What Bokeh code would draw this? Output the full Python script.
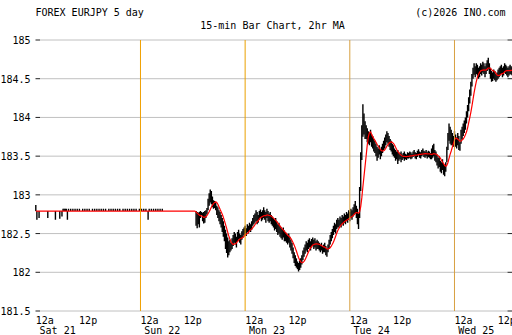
import numpy as np
import pandas as pd
from bokeh.plotting import figure
from bokeh.models import Label, ColumnDataSource, Range1d
from bokeh.embed import file_html
from bokeh.resources import INLINE

# ---------------- texts ----------------
title_left = "FOREX EURJPY 5 day"
title_center = "15-min Bar Chart, 2hr MA"
title_right = "(c)2026 INO.com"

day_labels = ["Sat 21", "Sun 22", "Mon 23", "Tue 24", "Wed 25"]
day_start_hours = [0, 24, 48, 72, 96]
half_day_labels = ["12a", "12p"]

y_ticks = [181.5, 182.0, 182.5, 183.0, 183.5, 184.0, 184.5, 185.0]
y_tick_labels = ["181.5", "182", "182.5", "183", "183.5", "184", "184.5", "185"]

# ---------------- data ----------------
BAR_HOURS = 0.25           # 15-min bars
MA_BARS = 8                # 2hr moving average

# weekend (flat quote) bars: index 0 .. 146
weekend_bars = 147
weekend_level = 182.79
sat_open_high = 182.87
weekend_dip_idx = [1, 3, 11, 18, 22, 24, 29, 103]
weekend_dip_low = [182.68, 182.70, 182.70, 182.68, 182.69, 182.72, 182.68, 182.68]
weekend_tick_idx = [25, 26, 27, 28, 30, 32, 34, 36, 38, 40, 43, 45, 47, 49, 52, 54,
                    56, 58, 60, 62, 64, 67, 69, 71, 73, 75, 77, 80, 82, 84, 86, 88,
                    90, 92, 95, 97, 99, 101, 104, 106, 108, 110, 112, 114, 116]
weekend_tick_high = 182.82

# active trading bars from index 147 (Sun 12:45) onward
active_high = [
    182.79, 182.78, 182.77, 182.78, 182.79, 182.78, 182.77, 182.78, 182.79, 182.80, 182.83,
    182.95, 183.02, 183.07, 183.05, 182.98, 182.93, 182.92, 182.90,
    182.86, 182.84, 182.80, 182.78, 182.74, 182.70, 182.66, 182.60, 182.55, 182.50,
    182.45, 182.40, 182.42, 182.38, 182.44,
    182.48, 182.52, 182.50, 182.46, 182.52, 182.55, 182.50, 182.48, 182.53, 182.56,
    182.58, 182.60, 182.57, 182.62, 182.60, 182.64, 182.62, 182.66, 182.70, 182.74,
    182.76, 182.80, 182.78, 182.74, 182.79, 182.81, 182.78, 182.80, 182.84, 182.80, 182.78, 182.82, 182.79, 182.76, 182.78, 182.74,
    182.72, 182.70, 182.68, 182.70, 182.66, 182.62, 182.64, 182.60, 182.58, 182.56, 182.58, 182.54,
    182.52, 182.50, 182.48, 182.50, 182.46, 182.42,
    182.38, 182.32, 182.26, 182.22, 182.18, 182.14, 182.12, 182.15, 182.18, 182.22, 182.28,
    182.32, 182.36, 182.40, 182.38, 182.42, 182.44, 182.40, 182.43, 182.45, 182.42, 182.44, 182.40, 182.42,
    182.40, 182.38, 182.36, 182.38, 182.34, 182.36,
    182.38, 182.34, 182.30, 182.36, 182.42, 182.48,
    182.52, 182.56, 182.60, 182.64, 182.62, 182.68, 182.70,
    182.68, 182.72, 182.70, 182.74, 182.72, 182.76, 182.74, 182.78, 182.76, 182.80, 182.78, 182.82, 182.80, 182.84,
    182.88, 182.92, 182.86, 182.82, 182.76,
    183.10, 183.55, 183.90, 184.17, 184.05, 183.95,
    183.90, 183.86, 183.82, 183.80, 183.84, 183.78, 183.76,
    183.72, 183.70, 183.66, 183.62, 183.60, 183.64, 183.58, 183.62, 183.66,
    183.70, 183.74, 183.78, 183.82, 183.80, 183.76, 183.72, 183.70, 183.66, 183.64,
    183.60, 183.58, 183.56, 183.58, 183.55, 183.54, 183.56, 183.52, 183.54, 183.56, 183.53, 183.52, 183.55,
    183.54, 183.56, 183.55, 183.53, 183.56, 183.58, 183.55, 183.54, 183.57, 183.59, 183.56, 183.55, 183.58, 183.60, 183.57, 183.56, 183.58, 183.55, 183.57, 183.56, 183.54,
    183.60, 183.64, 183.66, 183.58, 183.56,
    183.52, 183.48, 183.50, 183.44, 183.42, 183.46, 183.40, 183.38, 183.42,
    183.62, 183.80, 183.92, 183.88, 183.84,
    183.80, 183.76, 183.82, 183.78, 183.74, 183.80, 183.76, 183.68, 183.84,
    183.88, 183.92, 183.96, 184.00, 184.08, 184.16, 184.26, 184.36, 184.46, 184.56, 184.64, 184.70,
    184.66, 184.70, 184.68, 184.64, 184.66, 184.70, 184.68, 184.72, 184.70, 184.66, 184.70, 184.74, 184.77,
    184.70, 184.64, 184.60, 184.58, 184.62, 184.60, 184.56, 184.58, 184.62,
    184.64, 184.66, 184.68, 184.64, 184.66, 184.70, 184.68, 184.66, 184.64, 184.66, 184.68, 184.66, 184.64,
]
active_low = [
    182.60, 182.57, 182.62, 182.58, 182.70, 182.74, 182.66, 182.63, 182.64, 182.70, 182.75,
    182.80, 182.86, 182.90, 182.88, 182.84, 182.82, 182.83, 182.80,
    182.74, 182.70, 182.66, 182.62, 182.58, 182.52, 182.46, 182.40, 182.30, 182.25,
    182.19, 182.22, 182.26, 182.28, 182.30,
    182.34, 182.38, 182.36, 182.32, 182.40, 182.42, 182.38, 182.36, 182.42, 182.45,
    182.48, 182.50, 182.47, 182.52, 182.50, 182.54, 182.52, 182.55, 182.60, 182.62,
    182.64, 182.66, 182.62, 182.64, 182.68, 182.70, 182.66, 182.68, 182.70, 182.68, 182.64, 182.70, 182.66, 182.64, 182.66, 182.62,
    182.60, 182.58, 182.54, 182.56, 182.52, 182.48, 182.50, 182.46, 182.44, 182.42, 182.45, 182.40,
    182.40, 182.38, 182.36, 182.38, 182.32, 182.28,
    182.24, 182.18, 182.12, 182.08, 182.06, 182.04, 182.01, 182.03, 182.06, 182.10, 182.16,
    182.20, 182.24, 182.28, 182.26, 182.30, 182.32, 182.28, 182.32, 182.34, 182.30, 182.32, 182.28, 182.30,
    182.30, 182.28, 182.26, 182.28, 182.24, 182.26,
    182.26, 182.22, 182.20, 182.26, 182.30, 182.36,
    182.40, 182.44, 182.48, 182.52, 182.50, 182.56, 182.58,
    182.58, 182.60, 182.58, 182.62, 182.60, 182.64, 182.62, 182.66, 182.64, 182.68, 182.66, 182.70, 182.68, 182.72,
    182.74, 182.76, 182.70, 182.62, 182.56,
    182.70, 183.05, 183.45, 183.75, 183.78, 183.72,
    183.72, 183.68, 183.66, 183.64, 183.68, 183.62, 183.60,
    183.56, 183.54, 183.50, 183.44, 183.48, 183.52, 183.46, 183.50, 183.54,
    183.58, 183.60, 183.64, 183.68, 183.66, 183.62, 183.58, 183.56, 183.52, 183.50,
    183.48, 183.44, 183.46, 183.40, 183.44, 183.46, 183.42, 183.45, 183.47, 183.44, 183.46, 183.45, 183.47,
    183.47, 183.48, 183.46, 183.47, 183.49, 183.50, 183.47, 183.46, 183.49, 183.51, 183.48, 183.47, 183.50, 183.51, 183.49, 183.48, 183.50, 183.47, 183.49, 183.48, 183.46,
    183.46, 183.48, 183.50, 183.44, 183.42,
    183.38, 183.34, 183.36, 183.30, 183.28, 183.32, 183.26, 183.24, 183.30,
    183.42, 183.58, 183.70, 183.66, 183.64,
    183.64, 183.62, 183.66, 183.62, 183.60, 183.64, 183.58, 183.57, 183.66,
    183.72, 183.76, 183.80, 183.84, 183.92, 184.00, 184.08, 184.18, 184.28, 184.40, 184.50, 184.55,
    184.52, 184.56, 184.54, 184.50, 184.52, 184.56, 184.54, 184.58, 184.56, 184.52, 184.56, 184.60, 184.62,
    184.56, 184.50, 184.46, 184.47, 184.50, 184.48, 184.46, 184.48, 184.50,
    184.52, 184.54, 184.56, 184.52, 184.54, 184.58, 184.56, 184.54, 184.52, 184.54, 184.56, 184.55, 184.54,
]

# ---------------- assemble bars ----------------
assert len(active_high) == len(active_low)
w_hi = np.full(weekend_bars, weekend_level)
w_lo = np.full(weekend_bars, weekend_level)
w_hi[0] = sat_open_high
w_hi[weekend_tick_idx] = weekend_tick_high
w_lo[weekend_dip_idx] = weekend_dip_low
w_close = np.full(weekend_bars, weekend_level)

a_hi = np.array(active_high)
a_lo = np.array(active_low)
a_close = (a_hi + a_lo) / 2.0

hi = np.concatenate([w_hi, a_hi])
lo = np.concatenate([w_lo, a_lo])
close = np.concatenate([w_close, a_close])
t = np.arange(len(hi)) * BAR_HOURS
ma = pd.Series(close).rolling(MA_BARS, min_periods=1).mean().to_numpy()

src = ColumnDataSource(dict(t=t, hi=hi, lo=lo, ma=ma))

# ---------------- layout geometry (pixels) ----------------
W, H = 512, 335
PX_HOUR0 = 35.3          # pixel x of Sat 00:00
PX_PER_DAY = 104.67
PX_TOP, PX_BOT = 39.5, 310.5   # pixel y of top / bottom price
GRID_X0, GRID_X1 = 39.5, 507.0
TICK_L0, TICK_R1 = 35.0, 512.0

px_h = PX_PER_DAY / 24.0
x0 = -PX_HOUR0 / px_h
x1 = x0 + W / px_h
py = (PX_BOT - PX_TOP) / (y_ticks[-1] - y_ticks[0])
y1 = y_ticks[-1] + PX_TOP / py
y0 = y1 - H / py


def hx(px):
    return x0 + px / px_h


FONT = "DejaVu Sans Mono"
p = figure(width=W, height=H, output_backend="svg", toolbar_location=None,
           x_range=Range1d(x0, x1), y_range=Range1d(y0, y1),
           x_axis_location=None, y_axis_location=None,
           min_border=0, min_border_left=0, min_border_right=0,
           min_border_top=0, min_border_bottom=0)
p.outline_line_color = None
p.background_fill_color = "white"
p.border_fill_color = "white"
p.xgrid.visible = False
p.ygrid.visible = False

# horizontal grid and tick marks
n = len(y_ticks)
p.segment(x0=[hx(GRID_X0)] * n, x1=[hx(GRID_X1)] * n, y0=y_ticks, y1=y_ticks,
          line_color="#c0c0c0", line_width=1)
p.segment(x0=[hx(TICK_L0)] * n, x1=[hx(GRID_X0)] * n, y0=y_ticks, y1=y_ticks,
          line_color="#202020", line_width=1)
p.segment(x0=[hx(GRID_X1)] * n, x1=[hx(TICK_R1)] * n, y0=y_ticks, y1=y_ticks,
          line_color="#202020", line_width=1)

# bars and MA
p.segment(x0="t", y0="lo", x1="t", y1="hi", source=src, line_color="black",
          line_width=1.4)
p.line(x="t", y="ma", source=src, line_color="#ff0000", line_width=1.2)

# day separators (midnights)
sep_h = day_start_hours[1:]
p.segment(x0=sep_h, x1=sep_h, y0=[y_ticks[0]] * len(sep_h), y1=[y_ticks[-1]] * len(sep_h),
          line_color=["#f0a000", "#eaa000", "#d8a040", "#d8a040"], line_width=1)


def lab(**kw):
    base = dict(text_font=FONT, text_font_size="10px", text_color="#000000",
                text_baseline="alphabetic")
    base.update(kw)
    p.add_layout(Label(**base))


# y labels
for v, s in zip(y_ticks, y_tick_labels):
    lab(x=30, y=v, x_units="screen", y_units="data", text=s, text_align="right",
        text_baseline="middle")

# x labels (screen y measured from canvas bottom)
for h0, d in zip(day_start_hours, day_labels):
    lab(x=h0, y=H - 320, x_units="data", y_units="screen", text=half_day_labels[0],
        text_align="left")
    lab(x=h0 + 12, y=H - 320, x_units="data", y_units="screen", text=half_day_labels[1],
        text_align="center")
    lab(x=h0 + 5, y=H - 330, x_units="data", y_units="screen", text=d,
        text_align="center")

# titles
lab(x=35, y=H - 12, x_units="screen", y_units="screen", text=title_left, text_align="left")
lab(x=505, y=H - 12, x_units="screen", y_units="screen", text=title_right, text_align="right")
lab(x=272, y=H - 25, x_units="screen", y_units="screen", text=title_center, text_align="center")

open("out.html", "w").write(file_html(p, INLINE))
